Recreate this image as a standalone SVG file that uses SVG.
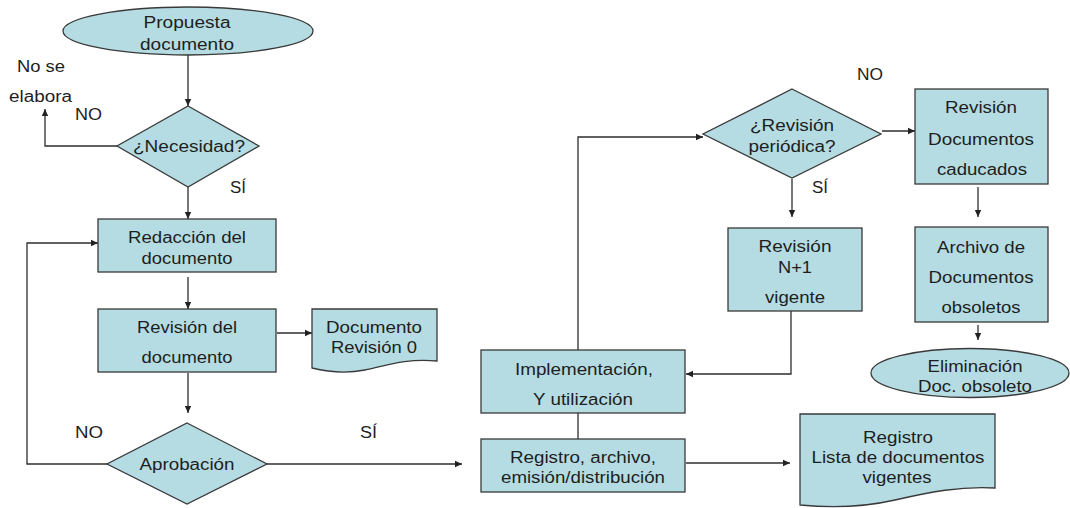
<svg xmlns="http://www.w3.org/2000/svg" width="1070" height="508" viewBox="0 0 1070 508">
<defs>
<marker id="ah" markerWidth="8" markerHeight="8" refX="7" refY="4" orient="auto" markerUnits="userSpaceOnUse">
<path d="M0,0.8 L7,4 L0,7.2 z" fill="#222"/>
</marker>
<style>
.n{fill:#b4dce2;stroke:#3a3a3a;stroke-width:1.3}
.t{font-family:"Liberation Sans",Arial,sans-serif;font-size:16px;fill:#1e1e1e;text-anchor:middle}
.l{font-family:"Liberation Sans",Arial,sans-serif;font-size:16px;fill:#1e1e1e}
.c{fill:none;stroke:#2e2e2e;stroke-width:1.3}
.a{marker-end:url(#ah)}
</style>
</defs>
<rect width="1070" height="508" fill="#ffffff"/>

<g id="connectors">
<path class="c a" d="M188,55 V106"/>
<path class="c a" d="M117,146 H45 V109"/>
<path class="c a" d="M188,187 V219"/>
<path class="c a" d="M188,277 V309"/>
<path class="c a" d="M277,333 H312"/>
<path class="c a" d="M188,373 V413"/>
<path class="c a" d="M107,464 H27 V243 H98"/>
<path class="c a" d="M267,464 H462"/>
<path class="c" d="M578,413 V439"/>
<path class="c a" d="M578,350 V137 H703"/>
<path class="c a" d="M882,131 H915"/>
<path class="c a" d="M792,179 V217"/>
<path class="c a" d="M791,311 V374 H686"/>
<path class="c a" d="M978,187 V217"/>
<path class="c a" d="M978,325 V340"/>
<path class="c a" d="M686,463 H790"/>
</g>

<g id="labels">
<text class="l" x="17" y="72" textLength="48" lengthAdjust="spacingAndGlyphs">No se</text>
<text class="l" x="9" y="102" textLength="63" lengthAdjust="spacingAndGlyphs">elabora</text>
<text class="l" x="75" y="120" textLength="27" lengthAdjust="spacingAndGlyphs">NO</text>
<text class="l" x="230" y="193" textLength="16" lengthAdjust="spacingAndGlyphs">SÍ</text>
<text class="l" x="75" y="438" textLength="28" lengthAdjust="spacingAndGlyphs">NO</text>
<text class="l" x="360" y="438" textLength="17" lengthAdjust="spacingAndGlyphs">SÍ</text>
<text class="l" x="857" y="80" textLength="26" lengthAdjust="spacingAndGlyphs">NO</text>
<text class="l" x="812" y="193" textLength="16" lengthAdjust="spacingAndGlyphs">SÍ</text>
</g>

<g id="propuesta">
<ellipse class="n" cx="188" cy="31" rx="125" ry="24"/>
<text class="t" x="187" y="28" textLength="87" lengthAdjust="spacingAndGlyphs">Propuesta</text>
<text class="t" x="187" y="50" textLength="94" lengthAdjust="spacingAndGlyphs">documento</text>
</g>

<g id="necesidad">
<polygon class="n" points="188,106 259,146 188,187 117,146"/>
<text class="t" x="189" y="152" textLength="112" lengthAdjust="spacingAndGlyphs">¿Necesidad?</text>
</g>

<g id="redaccion">
<rect class="n" x="98" y="219" width="178" height="53"/>
<text class="t" x="187" y="243" textLength="118" lengthAdjust="spacingAndGlyphs">Redacción del</text>
<text class="t" x="187" y="264" textLength="91" lengthAdjust="spacingAndGlyphs">documento</text>
</g>

<g id="revision">
<rect class="n" x="98" y="309" width="178" height="63"/>
<text class="t" x="187" y="333" textLength="100" lengthAdjust="spacingAndGlyphs">Revisión del</text>
<text class="t" x="187" y="363" textLength="91" lengthAdjust="spacingAndGlyphs">documento</text>
</g>

<g id="documento-rev0">
<path class="n" d="M312,309 H437 V361 C405,358 385,366 365,370 C345,374 328,372 312,368 Z"/>
<text class="t" x="374" y="333" textLength="96" lengthAdjust="spacingAndGlyphs">Documento</text>
<text class="t" x="374" y="353" textLength="86" lengthAdjust="spacingAndGlyphs">Revisión 0</text>
</g>

<g id="aprobacion">
<polygon class="n" points="187,423 267,464 187,504 107,464"/>
<text class="t" x="187" y="470" textLength="95" lengthAdjust="spacingAndGlyphs">Aprobación</text>
</g>

<g id="implementacion">
<rect class="n" x="481" y="350" width="204" height="63"/>
<text class="t" x="584" y="375" textLength="138" lengthAdjust="spacingAndGlyphs">Implementación,</text>
<text class="t" x="583" y="405" textLength="100" lengthAdjust="spacingAndGlyphs">Y utilización</text>
</g>

<g id="registro">
<rect class="n" x="481" y="439" width="204" height="53"/>
<text class="t" x="583" y="463" textLength="146" lengthAdjust="spacingAndGlyphs">Registro, archivo,</text>
<text class="t" x="583" y="483" textLength="164" lengthAdjust="spacingAndGlyphs">emisión/distribución</text>
</g>

<g id="revision-periodica">
<polygon class="n" points="792,89 881,134 792,178 703,134"/>
<text class="t" x="792" y="131" textLength="84" lengthAdjust="spacingAndGlyphs">¿Revisión</text>
<text class="t" x="792" y="152" textLength="87" lengthAdjust="spacingAndGlyphs">periódica?</text>
</g>

<g id="revision-caducados">
<rect class="n" x="915" y="89" width="133" height="95"/>
<text class="t" x="981" y="113" textLength="72" lengthAdjust="spacingAndGlyphs">Revisión</text>
<text class="t" x="981" y="145" textLength="106" lengthAdjust="spacingAndGlyphs">Documentos</text>
<text class="t" x="982" y="175" textLength="90" lengthAdjust="spacingAndGlyphs">caducados</text>
</g>

<g id="revision-n1">
<rect class="n" x="728" y="228" width="134" height="83"/>
<text class="t" x="795" y="252" textLength="73" lengthAdjust="spacingAndGlyphs">Revisión</text>
<text class="t" x="795" y="273" textLength="34" lengthAdjust="spacingAndGlyphs">N+1</text>
<text class="t" x="795" y="303" textLength="60" lengthAdjust="spacingAndGlyphs">vigente</text>
</g>

<g id="archivo-obsoletos">
<rect class="n" x="915" y="227" width="133" height="95"/>
<text class="t" x="981" y="253" textLength="88" lengthAdjust="spacingAndGlyphs">Archivo de</text>
<text class="t" x="981" y="283" textLength="105" lengthAdjust="spacingAndGlyphs">Documentos</text>
<text class="t" x="981" y="313" textLength="79" lengthAdjust="spacingAndGlyphs">obsoletos</text>
</g>

<g id="eliminacion">
<ellipse class="n" cx="970" cy="373" rx="99" ry="24.5"/>
<text class="t" x="975" y="372" textLength="95" lengthAdjust="spacingAndGlyphs">Eliminación</text>
<text class="t" x="975" y="392" textLength="114" lengthAdjust="spacingAndGlyphs">Doc. obsoleto</text>
</g>

<g id="lista-vigentes">
<path class="n" d="M800,414 H995 V488 C960,486 930,492 895,500 C860,508 830,508 800,505 Z"/>
<text class="t" x="898" y="443" textLength="70" lengthAdjust="spacingAndGlyphs">Registro</text>
<text class="t" x="898" y="463" textLength="173" lengthAdjust="spacingAndGlyphs">Lista de documentos</text>
<text class="t" x="897" y="483" textLength="69" lengthAdjust="spacingAndGlyphs">vigentes</text>
</g>
</svg>
